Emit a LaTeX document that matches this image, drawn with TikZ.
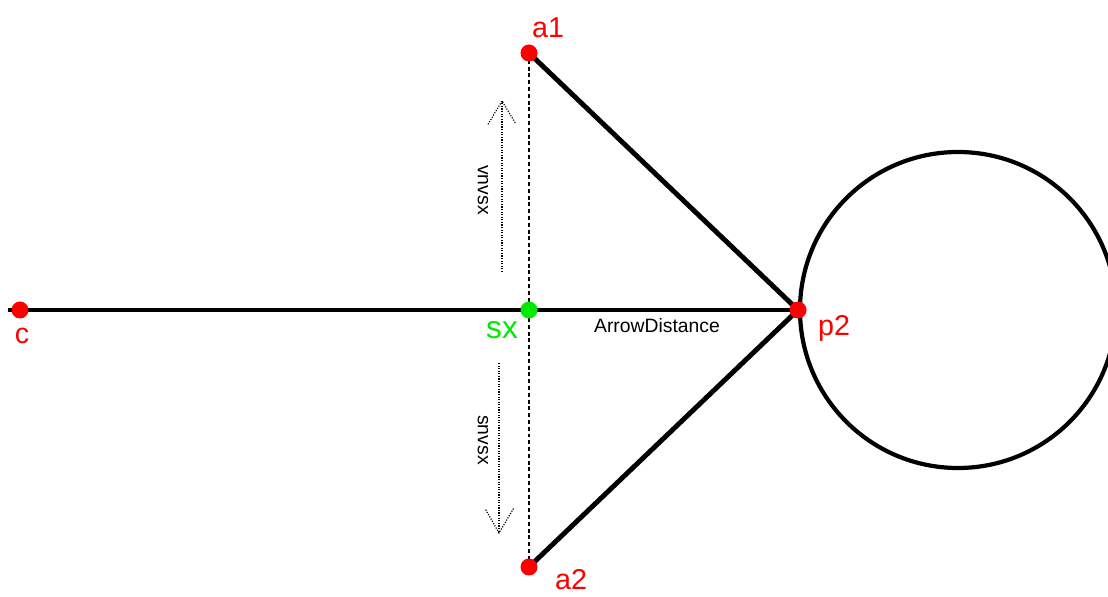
\documentclass[tikz,border=0pt]{standalone}
\usepackage{fontspec}
\setmainfont{Liberation Sans}
\definecolor{ptred}{RGB}{255,0,0}
\definecolor{sxgreen}{RGB}{0,235,0}

\begin{document}
\begin{tikzpicture}[
  thickline/.style={line width=4.2pt},
  guide/.style={line width=1.1pt,dash pattern=on 3.4pt off 2.4pt},
  hint/.style={line width=1pt,dash pattern=on 1pt off 1.2pt},
  dot/.style={circle,fill=#1,inner sep=0pt,minimum size=0.510cm},
  ptlabel/.style={text=#1,inner sep=0pt,font=\fontsize{24.5}{24.5}\selectfont},
  sidelabel/.style={inner sep=0pt,font=\fontsize{16.5}{16.5}\selectfont}
]
\useasboundingbox (0.000,0.000) rectangle (33.240,-17.910);
\clip (0.000,0.000) rectangle (33.240,-17.910);
\coordinate (lft) at (0.240,-9.300);
\coordinate (c) at (0.600,-9.300);
\coordinate (sx) at (15.870,-9.300);
\coordinate (p2) at (23.940,-9.300);
\coordinate (a1) at (15.870,-1.590);
\coordinate (a2) at (15.870,-17.010);
\coordinate (ctr) at (28.740,-9.300);
\coordinate (vbase) at (15.060,-8.160);
\coordinate (vtip) at (15.060,-3.030);
\coordinate (sbase) at (14.970,-10.890);
\coordinate (stip) at (14.970,-15.990);
\draw[guide] (a1) -- (a2);
\draw[thickline] (lft) -- (p2);
\draw[thickline] (a1) -- (p2) -- (a2);
\draw[line width=3.6pt] (ctr) circle (4.740);
\draw[hint] (vbase) -- (vtip);
\draw[hint] (vtip) ++(-0.420,-0.700) -- (vtip) -- ++(0.400,-0.660);
\draw[hint] (sbase) -- (stip);
\draw[hint] (stip) ++(-0.400,0.700) -- (stip) -- ++(0.440,0.740);
\node[sidelabel,rotate=-90] (vnlbl) at (14.490,-5.700) {vnvsx};
\node[sidelabel,rotate=-90] (snlbl) at (14.490,-13.200) {snvsx};
\node[dot=ptred] (cdot) at (c) {};
\node[dot=sxgreen] (sxdot) at (sx) {};
\node[dot=ptred] (p2dot) at (p2) {};
\node[dot=ptred] (a1dot) at (a1) {};
\node[dot=ptred] (a2dot) at (a2) {};
\node[ptlabel=ptred] (clbl) at (0.660,-10.080) {c};
\node[ptlabel=sxgreen,font=\fontsize{27}{27}\selectfont] (sxlbl) at (15.060,-9.900) {sx};
\node[ptlabel=ptred] (p2lbl) at (25.020,-9.840) {p2};
\node[ptlabel=ptred] (a1lbl) at (16.440,-0.840) {a1};
\node[ptlabel=ptred] (a2lbl) at (17.130,-17.400) {a2};
\node[inner sep=0pt,font=\fontsize{16.5}{16.5}\selectfont] (distlbl) at (19.710,-9.780) {ArrowDistance};
\end{tikzpicture}
\end{document}
